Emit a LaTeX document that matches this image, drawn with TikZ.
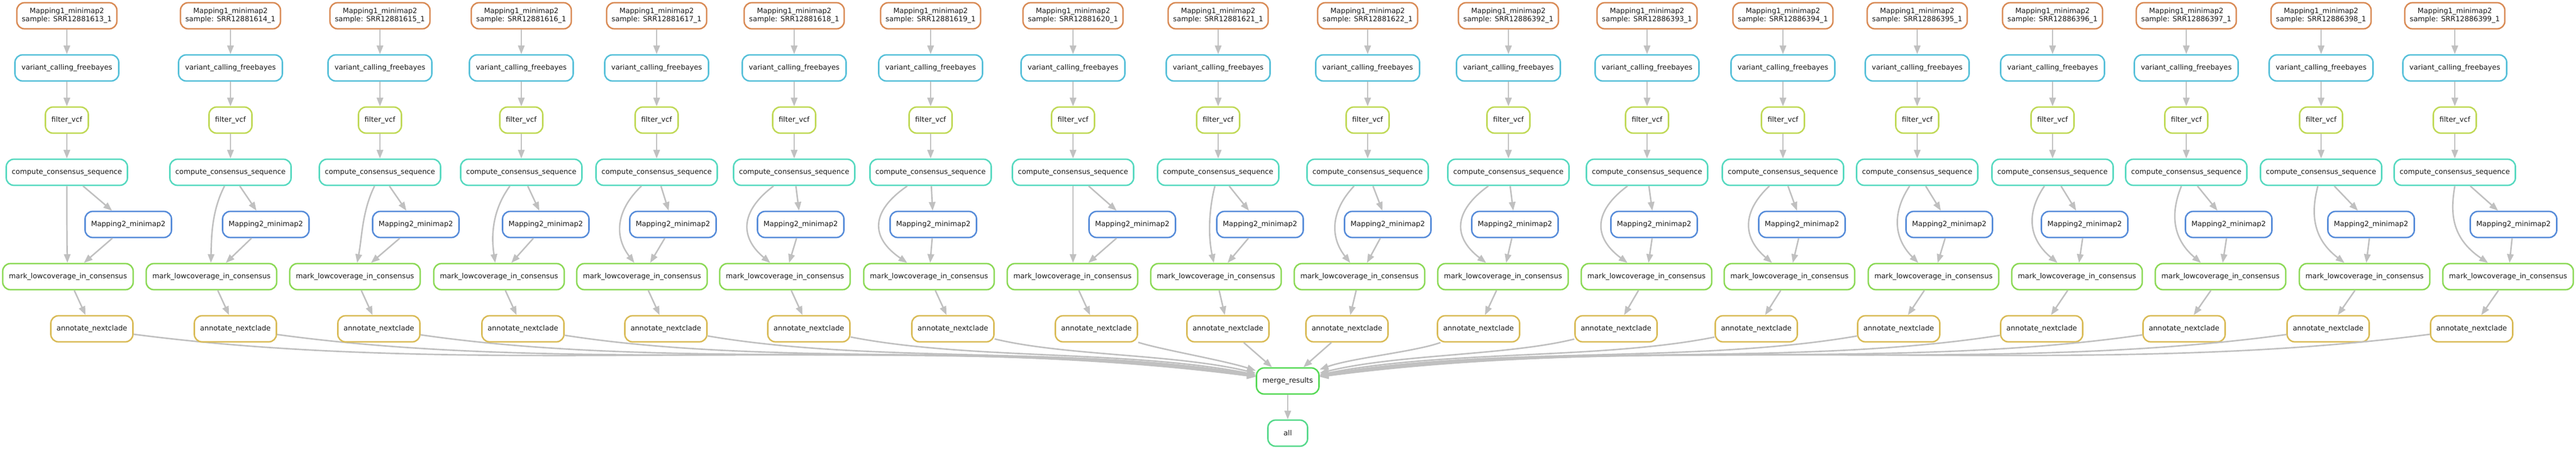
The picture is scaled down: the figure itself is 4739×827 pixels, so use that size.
\documentclass[tikz,border=0pt]{standalone}
\usepackage{fontspec}
\setmainfont{DejaVu Sans}
\usetikzlibrary{arrows.meta}
\definecolor{cMone}{RGB}{217,140,87}
\definecolor{cVc}{RGB}{87,192,217}
\definecolor{cFv}{RGB}{192,217,87}
\definecolor{cCc}{RGB}{87,217,192}
\definecolor{cMtwo}{RGB}{87,140,217}
\definecolor{cMk}{RGB}{140,217,87}
\definecolor{cAn}{RGB}{217,187,87}
\definecolor{cMr}{RGB}{87,217,87}
\definecolor{cAll}{RGB}{87,217,140}
\definecolor{edgegray}{RGB}{192,192,192}
\begin{document}
\begin{tikzpicture}[x=0.25pt,y=0.25pt,
  box/.style={draw, rounded corners=3.5pt, line width=0.675pt, minimum height=12pt,
    inner sep=0pt, align=center, text=black!90,
    font=\fontsize{3.275pt}{3.75pt}\selectfont},
  mone/.style={box, draw=cMone, minimum width=46pt},
  vcbox/.style={box, draw=cVc, minimum width=47.75pt},
  fvbox/.style={box, draw=cFv, minimum width=19.75pt},
  ccbox/.style={box, draw=cCc, minimum width=55.75pt},
  mtwo/.style={box, draw=cMtwo, minimum width=39.75pt},
  mkbox/.style={box, draw=cMk, minimum width=60pt},
  anbox/.style={box, draw=cAn, minimum width=37.75pt},
  mrbox/.style={box, draw=cMr, minimum width=28.75pt},
  allbox/.style={box, draw=cAll, minimum width=18.25pt},
  edge/.style={draw=edgegray, line width=0.675pt, -{Triangle[length=4pt,width=3pt]}}
]
\useasboundingbox (0,0) rectangle (4739,827);

\node[mrbox] (merge) at (2369,126) {merge\_results};
\node[allbox] (all) at (2369,30) {all};
\draw[edge] (merge) -- (all);

\foreach \i/\smp/\xc/\xm/\xk/\xa/\sx/\p/\ex/\bd in {
  1/12881613/123/236/125/169/123/123/124/0.029,
  2/12881614/424/489/389/433/413/389/388/0.029,
  3/12881615/699/765/653/697/689/666/657/0.029,
  4/12881616/959/1004/918/962/938/904/911/0.029,
  5/12881617/1208/1238/1181/1225/1180/1131/1167/0.029,
  6/12881618/1461/1473/1444/1488/1423/1361/1417/0.029,
  7/12881619/1712/1717/1709/1753/1669/1601/1669/0.029,
  8/12881620/1974/2083/1973/2017/1974/1974/1974/0.017,
  9/12881621/2241/2318/2237/2259/2235/2223/2233/0,
  10/12881622/2516/2553/2501/2478/2491/2447/2484/0,
  11/12886392/2775/2787/2765/2720/2738/2673/2734/0.029,
  12/12886393/3030/3043/3029/2973/2994/2931/2994/0.029,
  13/12886394/3280/3315/3292/3231/3255/3205/3260/0.029,
  14/12886395/3527/3586/3557/3493/3513/3482/3529/0.029,
  15/12886396/3776/3835/3821/3756/3761/3729/3785/0.029,
  16/12886397/4022/4100/4085/4018/4013/3994/4049/0.029,
  17/12886398/4270/4362/4350/4283/4264/4252/4313/0.029,
  18/12886399/4516/4624/4614/4547/4516/4508/4577/0.029}{
  \node[mone] (mo\i) at (\xc,798) {Mapping1\_minimap2\\sample: SRR\smp\_1};
  \node[vcbox] (vc\i) at (\xc,702) {variant\_calling\_freebayes};
  \node[fvbox] (fv\i) at (\xc,606) {filter\_vcf};
  \node[ccbox] (cc\i) at (\xc,510) {compute\_consensus\_sequence};
  \node[mtwo] (mt\i) at (\xm,414) {Mapping2\_minimap2};
  \node[mkbox] (mk\i) at (\xk,318) {mark\_lowcoverage\_in\_consensus};
  \node[anbox] (an\i) at (\xa,222) {annotate\_nextclade};
  \draw[edge] (mo\i) -- (vc\i);
  \draw[edge] (vc\i) -- (fv\i);
  \draw[edge] (fv\i) -- (cc\i);
  \draw[edge] (cc\i) -- (mt\i);
  \draw[edge] (mt\i) -- (mk\i);
  \draw[edge] (mk\i) -- (an\i);
  \draw[edge] (cc\i.south -| \sx,0) .. controls (\p,438) and (\p,390) .. (mk\i.north -| \ex,0);
  \draw[edge] (an\i) .. controls ({\xa+(2369-\xa)/3},{190-\bd*abs(2369-\xa)})
     and ({2369-(2369-\xa)/3},{158+\bd*abs(2369-\xa)}) .. (merge);
}
\end{tikzpicture}
\end{document}
